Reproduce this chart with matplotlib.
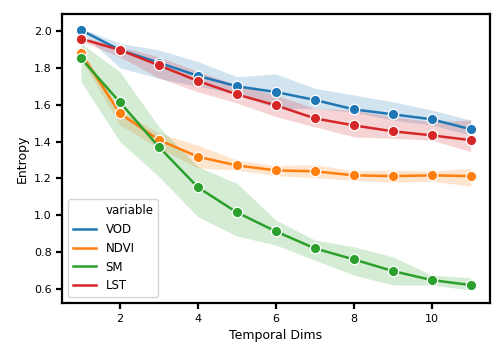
import matplotlib
matplotlib.use("Agg")
import matplotlib.pyplot as plt
from matplotlib.lines import Line2D
import numpy as np

dims = [1, 2, 3, 4, 5, 6, 7, 8, 9, 10, 11]

vod = [2.005, 1.897, 1.828, 1.757, 1.700, 1.669, 1.626, 1.575, 1.548, 1.521, 1.467]
vod_lo = [1.995, 1.800, 1.743, 1.700, 1.660, 1.580, 1.580, 1.560, 1.517, 1.490, 1.436]
vod_hi = [2.015, 1.933, 1.897, 1.834, 1.752, 1.767, 1.689, 1.653, 1.616, 1.571, 1.517]

ndvi = [1.879, 1.553, 1.409, 1.318, 1.271, 1.244, 1.239, 1.217, 1.213, 1.217, 1.213]
ndvi_lo = [1.850, 1.490, 1.364, 1.257, 1.246, 1.215, 1.205, 1.190, 1.180, 1.185, 1.159]
ndvi_hi = [1.900, 1.571, 1.445, 1.381, 1.300, 1.270, 1.275, 1.242, 1.245, 1.240, 1.255]

sm = [1.852, 1.613, 1.371, 1.152, 1.016, 0.913, 0.821, 0.761, 0.698, 0.649, 0.622]
sm_lo = [1.725, 1.400, 1.210, 0.992, 0.888, 0.839, 0.757, 0.676, 0.622, 0.622, 0.595]
sm_hi = [1.933, 1.779, 1.480, 1.264, 1.174, 0.974, 0.866, 0.830, 0.775, 0.676, 0.661]

lst = [1.958, 1.897, 1.814, 1.729, 1.656, 1.597, 1.526, 1.488, 1.456, 1.434, 1.408]
lst_lo = [1.945, 1.860, 1.745, 1.670, 1.610, 1.535, 1.480, 1.426, 1.418, 1.408, 1.345]
lst_hi = [1.970, 1.915, 1.860, 1.780, 1.707, 1.653, 1.580, 1.571, 1.535, 1.508, 1.517]

names = ["VOD", "NDVI", "SM", "LST"]
colors = ["#1f77b4", "#ff7f0e", "#2ca02c", "#d62728"]
series = [(vod, vod_lo, vod_hi), (ndvi, ndvi_lo, ndvi_hi), (sm, sm_lo, sm_hi), (lst, lst_lo, lst_hi)]

fig = plt.figure(figsize=(5.04, 3.6), dpi=100)
ax = fig.add_axes([0.123, 0.158, 0.849, 0.803])

for name, c, (m, lo, hi) in zip(names, colors, series):
    ax.fill_between(dims, lo, hi, color=c, alpha=0.2, linewidth=0)
for name, c, (m, lo, hi) in zip(names, colors, series):
    ax.plot(dims, m, color=c, lw=1.8, marker="o", markersize=7.5,
            markeredgecolor="white", markeredgewidth=0.9, label=name)

ax.set_xlim(0.513, 11.49)
ax.set_ylim(0.524, 2.092)
ax.set_xticks([2, 4, 6, 8, 10])
ax.set_yticks([0.6, 0.8, 1.0, 1.2, 1.4, 1.6, 1.8, 2.0])
ax.set_yticklabels(["0.6", "0.8", "1.0", "1.2", "1.4", "1.6", "1.8", "2.0"])
for s in ax.spines.values():
    s.set_linewidth(1.6)
ax.tick_params(axis="both", labelsize=8, width=1.6, length=4.5, pad=3)
ax.set_xlabel("Temporal Dims", fontsize=9)
ax.set_ylabel("Entropy", fontsize=9)

handles = [Line2D([], [], linestyle="none")] + [
    Line2D([], [], color=c, lw=1.8) for c in colors]
labels = ["variable"] + names
ax.legend(handles, labels, loc="lower left", fontsize=8.5, frameon=True,
          handlelength=2.0, borderpad=0.4, labelspacing=0.5, handletextpad=0.8)

fig.savefig("out.png", dpi=100)
